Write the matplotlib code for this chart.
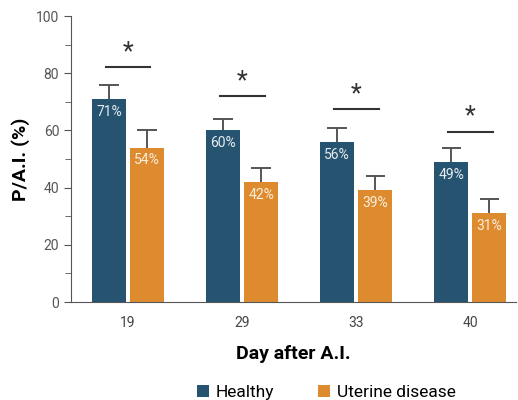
import numpy as np
import matplotlib.pyplot as plt
from matplotlib.ticker import MultipleLocator

plt.rcParams['font.family'] = ['Liberation Sans Narrow', 'Roboto', 'DejaVu Sans']

days = ['19', '29', '33', '40']
healthy = [71, 60, 56, 49]
healthy_err = [5, 4, 5, 5]
uterine = [54, 42, 39, 31]
uterine_err = [6, 5, 5, 5]
sig_y = [82, 72, 67.5, 59.6]

c_h = '#265370'
c_u = '#de8b30'
grey = '#555555'

fig = plt.figure(figsize=(5.18, 4), dpi=100)
ax = fig.add_axes([0.137, 0.245, 0.859, 0.715])

x = np.arange(len(days))
w = 0.3
off = 0.167
ax.bar(x - off, healthy, w, color=c_h, label='Healthy')
ax.bar(x + off, uterine, w, color=c_u, label='Uterine disease')

# upper error bars only
cap = 0.085
for pos, val, err in [(x - off, healthy, healthy_err), (x + off, uterine, uterine_err)]:
    top = np.array(val) + np.array(err)
    ax.vlines(pos, val, top, color=grey, lw=1.4, zorder=1)
    ax.hlines(top, pos - cap, pos + cap, color=grey, lw=1.4)

for i in range(len(days)):
    ax.text(x[i] - off, healthy[i] - 2, f'{healthy[i]}%', color='#e6ecf0',
            ha='center', va='top', fontsize=10)
    ax.text(x[i] + off, uterine[i] - 2, f'{uterine[i]}%', color='#fbeedd',
            ha='center', va='top', fontsize=10)
    ax.plot([x[i] - off - 0.03, x[i] + off + 0.03], [sig_y[i], sig_y[i]],
            color='#333333', lw=1.5)
    ax.text(x[i], sig_y[i] + 1, '*', ha='center', va='bottom', fontsize=18,
            color='#333333')

ax.set_xlim(-0.5, 3.4)
ax.set_ylim(0, 100)
ax.set_xticks(x)
ax.set_xticklabels(days)
ax.yaxis.set_major_locator(MultipleLocator(20))
ax.yaxis.set_minor_locator(MultipleLocator(10))
ax.tick_params(axis='y', which='both', colors=grey, labelsize=10, length=5)
ax.tick_params(axis='y', which='minor', length=4)
ax.tick_params(axis='x', length=0, labelsize=10, labelcolor='#444444', pad=10)
ax.spines['top'].set_visible(False)
ax.spines['right'].set_visible(False)
ax.spines['left'].set_color(grey)
ax.spines['bottom'].set_color(grey)
ax.set_ylabel('P/A.I. (%)', fontsize=14, fontweight='bold', labelpad=4)
ax.set_xlabel('Day after A.I.', fontsize=14, fontweight='bold', labelpad=11)

fig.legend(loc='lower center', bbox_to_anchor=(0.63, -0.04), ncol=2, frameon=False,
           fontsize=12.5, handlelength=0.7, handleheight=0.7, columnspacing=2.5,
           handletextpad=0.4)

fig.savefig('out.png', dpi=100)
